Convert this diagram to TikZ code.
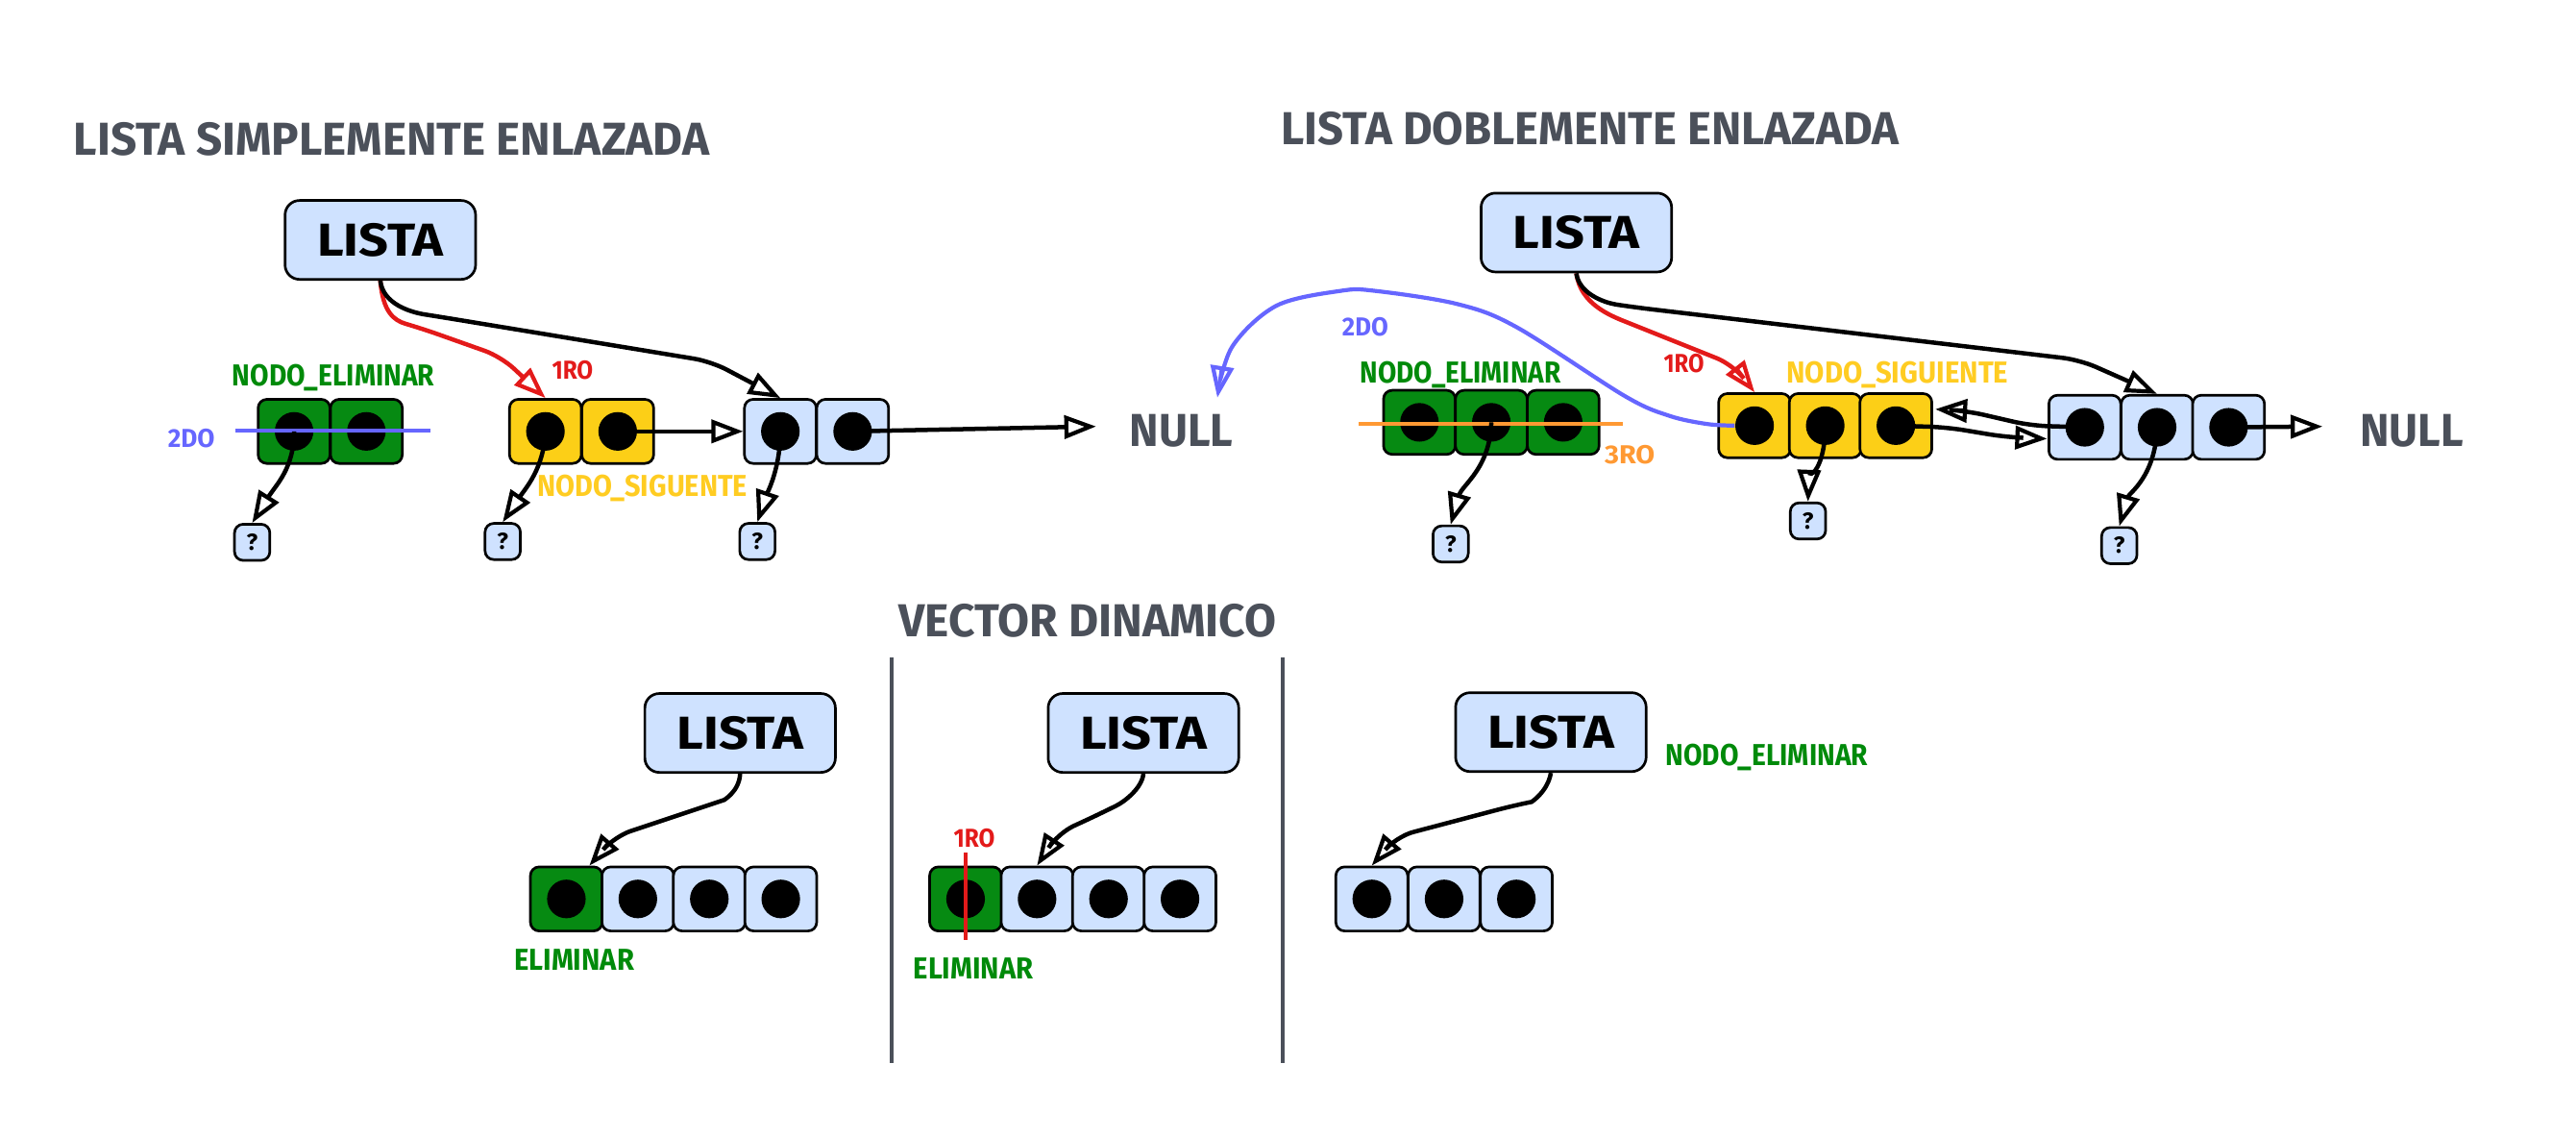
\documentclass[tikz,border=0pt]{standalone}
\usepackage{fontspec}
\setmainfont{Fira Sans}
\usepackage{graphicx}
\usetikzlibrary{arrows.meta,calc}
\definecolor{lblue}{HTML}{CFE2FF}
\definecolor{gfill}{HTML}{068A12}
\definecolor{gtext}{HTML}{008A0A}
\definecolor{yfill}{HTML}{FCCF17}
\definecolor{ytext}{HTML}{FFCC22}
\definecolor{rline}{HTML}{E31A1A}
\definecolor{bline}{HTML}{6666FF}
\definecolor{oline}{HTML}{FF9933}
\definecolor{tgray}{HTML}{4B505A}
\newcommand\fitw[2]{\resizebox{#1}{\height}{#2}}
\newcommand\mkcell[4]{\node[cellbox,fill=#4] (#1) at (#2,#3) {};\node[dotn] (#1d) at (#1.center) {};}
\begin{document}
\begin{tikzpicture}[x=0.02cm,y=-0.02cm,
  lista/.style={draw=black,line width=0.9pt,fill=lblue,rounded corners=5pt,minimum width=2.32cm,minimum height=0.96cm,inner sep=0pt,font=\bfseries\fontsize{16}{18}\selectfont},
  cellbox/.style={draw=black,line width=0.9pt,rounded corners=3pt,minimum width=0.875cm,minimum height=0.78cm,inner sep=0pt},
  dotn/.style={circle,fill=black,minimum size=0.47cm,inner sep=0pt},
  qbox/.style={draw=black,line width=0.9pt,fill=lblue,rounded corners=3pt,minimum width=0.43cm,minimum height=0.44cm,inner sep=0pt,font=\bfseries\fontsize{8}{9}\selectfont},
  ttl/.style={text=tgray,inner sep=0pt,font=\bfseries\fontsize{16}{18}\selectfont},
  lbl/.style={inner sep=0pt,font=\bfseries\fontsize{10.5}{12}\selectfont},
  slbl/.style={inner sep=0pt,font=\bfseries\fontsize{9}{10}\selectfont},
  conn/.style={line width=1.5pt,rounded corners=6pt,-{Triangle[open,length=11pt,width=8pt,line width=1.4pt]}},
  connr/.style={conn,draw=rline,-{Triangle[open,length=11pt,width=8pt,line width=1.4pt,color=rline]}},
  connb/.style={line width=1.4pt,draw=bline,-{Triangle[open,length=11pt,width=8pt,line width=1.4pt,color=bline]}},
]
\useasboundingbox (0,0) rectangle (1568,692);

% ---------- titles ----------
\node[ttl] (t1) at (238.5,85) {\fitw{7.74cm}{LISTA SIMPLEMENTE ENLAZADA}};
\node[ttl] (t2) at (968,78) {\fitw{7.52cm}{LISTA DOBLEMENTE ENLAZADA}};
\node[ttl] (t3) at (662,378) {\fitw{4.60cm}{VECTOR DINAMICO}};

% ---------- simple list ----------
\node[lista] (L1) at (231.5,146) {\fitw{1.54cm}{LISTA}};
\mkcell{SG1}{179}{262.5}{gfill}
\mkcell{SG2}{223}{262.5}{gfill}
\mkcell{SY1}{332}{262.5}{yfill}
\mkcell{SY2}{376}{262.5}{yfill}
\mkcell{SB1}{475}{262.5}{lblue}
\mkcell{SB2}{519}{262.5}{lblue}
\node[qbox] (Q1) at (153.5,330) {?};
\node[qbox] (Q2) at (306,329.5) {?};
\node[qbox] (Q3) at (461,329.5) {?};
\node[ttl] (NULL1) at (719,262) {\fitw{1.26cm}{NULL}};

\node[lbl,text=gtext] (sne) at (203,230) {\fitw{2.46cm}{NODO\_ELIMINAR}};
\node[slbl,text=bline] (s2do) at (116.5,267) {\fitw{0.57cm}{2DO}};
\node[slbl,text=rline] (s1ro) at (348.5,225) {\fitw{0.50cm}{1RO}};
\node[lbl,text=ytext] (sns) at (391,297) {\fitw{2.56cm}{NODO\_SIGUENTE}};
\coordinate (s2a) at (143,262);
\coordinate (s2b) at (262,262);
\draw[bline,line width=1.4pt] (s2a) -- (s2b);

\draw[connr] (L1.south) .. controls (233,190) and (240,195) .. (257,200) -- (305,217) -- (SY1.north);
\draw[conn] (L1.south) .. controls (233,185) and (250,190) .. (269,193) -- (433,220) -- (SB1.north);
\draw[conn] (SY2d.center) -- (SB1.west);
\draw[conn] (SB2d.center) -- ([xshift=-0.4cm,yshift=0.05cm]NULL1.west);
\draw[conn] (SG1d.center) .. controls (179,285) and (168,295) .. (Q1.north);
\draw[conn] (SY1d.center) .. controls (331,285) and (320,297) .. (Q2.north);
\draw[conn] (SB1d.center) .. controls (475,285) and (467,300) .. (Q3.north);

% ---------- double list ----------
\node[lista] (L2) at (959.5,141.5) {\fitw{1.54cm}{LISTA}};
\mkcell{TG1}{864}{257}{gfill}
\mkcell{TG2}{907.75}{257}{gfill}
\mkcell{TG3}{951.5}{257}{gfill}
\mkcell{TY1}{1068}{259}{yfill}
\mkcell{TY2}{1111}{259}{yfill}
\mkcell{TY3}{1154}{259}{yfill}
\mkcell{TB1}{1269}{260}{lblue}
\mkcell{TB2}{1313}{260}{lblue}
\mkcell{TB3}{1356.5}{260}{lblue}
\node[qbox] (Q4) at (883,331) {?};
\node[qbox] (Q5) at (1100.5,317) {?};
\node[qbox] (Q6) at (1290,332) {?};
\node[ttl] (NULL2) at (1468,262) {\fitw{1.26cm}{NULL}};

\node[lbl,text=gtext] (tne) at (889,228) {\fitw{2.44cm}{NODO\_ELIMINAR}};
\node[lbl,text=ytext] (tns) at (1155,228) {\fitw{2.70cm}{NODO\_SIGUIENTE}};
\node[slbl,text=bline] (t2do) at (831,199) {\fitw{0.56cm}{2DO}};
\node[slbl,text=rline] (t1ro) at (1025,221) {\fitw{0.49cm}{1RO}};
\node[slbl,text=oline] (t3ro) at (992,277) {\fitw{0.61cm}{3RO}};
\coordinate (o3a) at (827,258);
\coordinate (o3b) at (988,258);
\draw[oline,line width=1.4pt] (o3a) -- (o3b);

\draw[connr] (L2.south) .. controls (962,185) and (980,192) .. (1000,200) -- (1055,222) -- (TY1.north);
\draw[conn] (L2.south) .. controls (961,178) and (975,184) .. (995,187) -- (1266,219) -- (TB2.north);
\coordinate (nl2) at (741,242);
\draw[connb] plot[smooth,tension=0.55] coordinates {(TY1d.west) (1039,258) (1016,253) (989,241) (923,199) (887,185) (837,177) (816,177) (777,186) (750,211) (nl2)};
\coordinate (ty3r) at (1178,249);
\coordinate (tb1l) at (1246,267);
\draw[conn] (TB1d.center) -- (1236,259) -- (1197,250) -- (ty3r);
\draw[conn] (TY3d.center) -- (1185,260) -- (1221,266) -- (tb1l);
\draw[conn] (TB3d.center) -- ([xshift=-0.45cm,yshift=0.05cm]NULL2.west);
\draw[conn] (TG2d.center) .. controls (907,285) and (890,295) .. (Q4.north);
\draw[conn] (TY2d.center) .. controls (1111,285) and (1101,292) .. (Q5.north);
\draw[conn] (TB2d.center) .. controls (1312,290) and (1296,300) .. (Q6.north);

% ---------- dynamic vector ----------
\coordinate (sp1a) at (543,400);
\coordinate (sp1b) at (543,647);
\coordinate (sp2a) at (781,400);
\coordinate (sp2b) at (781,647);
\draw[tgray,line width=1.3pt] (sp1a) -- (sp1b);
\draw[tgray,line width=1.3pt] (sp2a) -- (sp2b);

\node[lista] (V1) at (450.5,446) {\fitw{1.54cm}{LISTA}};
\mkcell{A1}{344.75}{547}{gfill}
\mkcell{A2}{388.25}{547}{lblue}
\mkcell{A3}{431.75}{547}{lblue}
\mkcell{A4}{475.25}{547}{lblue}
\node[lbl,text=gtext] (ae) at (349.5,584) {\fitw{1.46cm}{ELIMINAR}};
\draw[conn] (V1.south) .. controls (450,482) and (440,487) .. (431,490) -- (374,509) -- ($(A1.north)+(14,0)$);

\node[lista] (V2) at (696,446) {\fitw{1.54cm}{LISTA}};
\mkcell{B1}{587.75}{547}{gfill}
\mkcell{B2}{631.25}{547}{lblue}
\mkcell{B3}{674.75}{547}{lblue}
\mkcell{B4}{718.25}{547}{lblue}
\node[lbl,text=gtext] (be) at (592.5,589) {\fitw{1.46cm}{ELIMINAR}};
\node[slbl,text=rline] (b1ro) at (593,510) {\fitw{0.50cm}{1RO}};
\coordinate (rva) at (588,519);
\coordinate (rvb) at (588,572);
\draw[rline,line width=1.4pt] (rva) -- (rvb);
\draw[conn] (V2.south) .. controls (695,480) and (684,488) .. (670,495) -- (644,507) -- (B2.north);

\node[lista] (V3) at (944,445.5) {\fitw{1.54cm}{LISTA}};
\mkcell{C1}{835}{547}{lblue}
\mkcell{C2}{879}{547}{lblue}
\mkcell{C3}{923}{547}{lblue}
\node[lbl,text=gtext] (cne) at (1075.5,461) {\fitw{2.46cm}{NODO\_ELIMINAR}};
\draw[conn] (V3.south) .. controls (942,482) and (932,488) .. (922,490) -- (850,509) -- (C1.north);
\end{tikzpicture}
\end{document}
